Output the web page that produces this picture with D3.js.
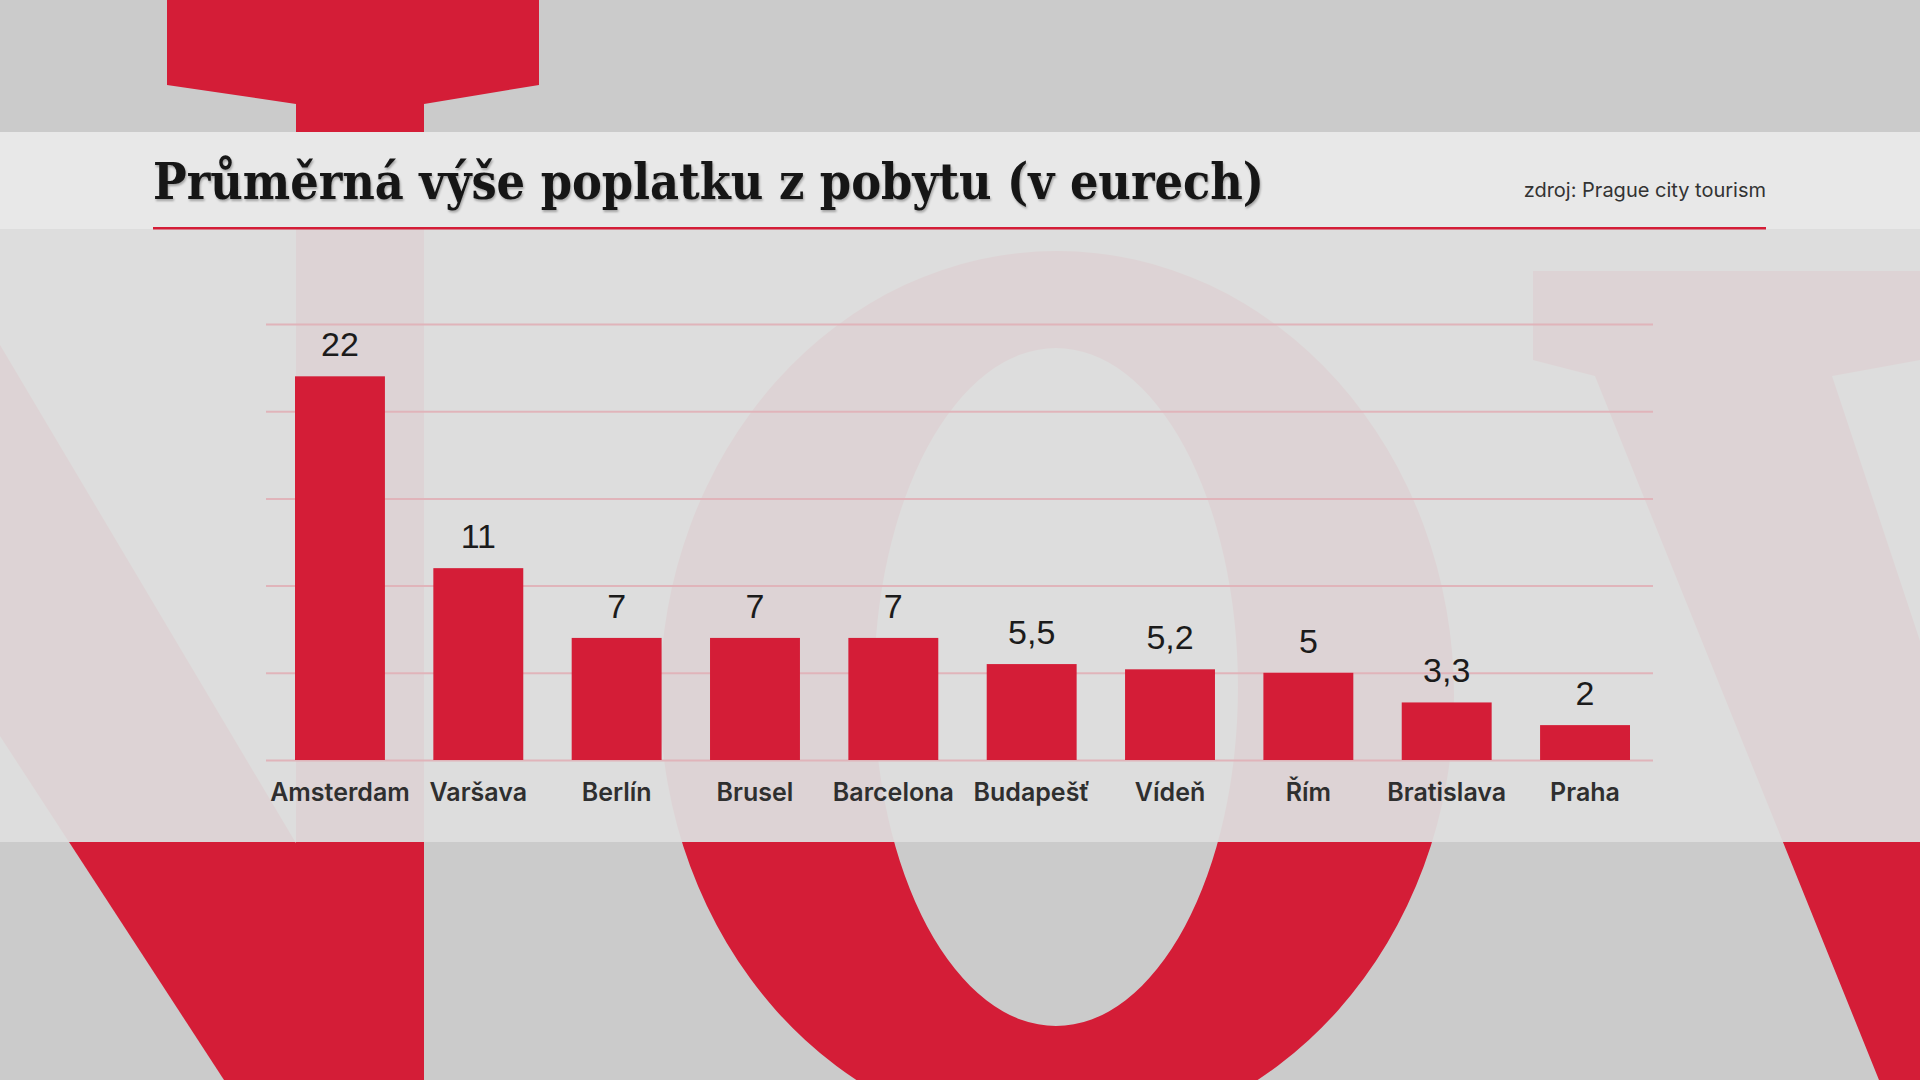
<!DOCTYPE html>
<meta charset="utf-8">

<head>
  <title>poplatek z pobytu</title>
</head>

<style>
  body {
    margin: 0;
    background: #cbcbcb;
  }

  svg {
    display: block;
  }

  .val {
    font-family: "Liberation Sans", Arial, sans-serif;
    font-size: 34px;
    fill: #1b1b1b;
    text-anchor: middle;
  }

  .cat text {
    font-family: Inter, "Noto Sans", sans-serif;
    font-weight: 600;
    font-size: 25px;
    fill: #2f2f2f;
  }
</style>

<body>
  <svg width="1920" height="1080"></svg>

  <script src="https://cdnjs.cloudflare.com/ajax/libs/d3/7.8.5/d3.min.js"></script>
  <script>
    // data
    var cities = ['Amsterdam', 'Varšava', 'Berlín', 'Brusel', 'Barcelona', 'Budapešť', 'Vídeň', 'Řím', 'Bratislava', 'Praha']
    var fees = [22, 11, 7, 7, 7, 5.5, 5.2, 5, 3.3, 2]
    var gridTicks = [0, 5, 10, 15, 20, 25]
    var title = 'Průměrná výše poplatku z pobytu (v eurech)'
    var source = 'zdroj: Prague city tourism'

    var red = '#d41d37'
    var svg = d3.select('svg')

    // background letters
    var deco = svg.append('g').attr('fill', red)
    deco.append('path').attr('d', 'M167,0H539V85L424,104V1080H296V104L167,85Z')
    deco.append('path').attr('d', 'M0,345L300,850V1080H224L0,736Z')
    deco.append('path')
      .attr('fill-rule', 'evenodd')
      .attr('d', ellipse(1057, 696, 397, 445) + ellipse(1056, 687, 182, 339))
    deco.append('path').attr('d', 'M1533,271H1920V360L1832,376L1920,641V1080H1879L1595,376L1533,360Z')

    function ellipse(cx, cy, rx, ry) {
      return 'M' + (cx - rx) + ',' + cy +
        'a' + rx + ',' + ry + ' 0 1,0 ' + (2 * rx) + ',0' +
        'a' + rx + ',' + ry + ' 0 1,0 ' + (-2 * rx) + ',0Z'
    }

    // panels
    svg.append('rect').attr('x', 0).attr('y', 132).attr('width', 1920).attr('height', 97)
      .attr('fill', '#e8e8e8')
    svg.append('rect').attr('x', 0).attr('y', 229).attr('width', 1920).attr('height', 613)
      .attr('fill', '#dddddd').attr('fill-opacity', 0.95)
    svg.append('rect').attr('x', 153).attr('y', 227).attr('width', 1613).attr('height', 2.5)
      .attr('fill', red)

    // title
    var defs = svg.append('defs')
    var f = defs.append('filter').attr('id', 'sh')
    f.append('feDropShadow').attr('dx', 1).attr('dy', 2).attr('stdDeviation', 1)
      .attr('flood-color', '#000').attr('flood-opacity', 0.3)

    var t = svg.append('text')
      .attr('x', 153).attr('y', 199)
      .attr('filter', 'url(#sh)')
      .style('font-family', '"DejaVu Serif", serif')
      .style('font-weight', 'bold')
      .style('font-stretch', 'condensed')
      .style('font-size', '50px')
      .attr('fill', '#141414')
      .text(title)
    var tw = t.node().getComputedTextLength()
    if (tw > 1111) t.style('font-size', (50 * 1111 / tw) + 'px')

    svg.append('text')
      .attr('x', 1766).attr('y', 197)
      .attr('text-anchor', 'end')
      .style('font-family', 'Inter, sans-serif')
      .style('font-size', '20px')
      .attr('fill', '#333')
      .text(source)

    // chart
    var x = d3.scaleBand().domain(cities).range([295, 1630]).paddingInner(0.35).paddingOuter(0)
    var y = d3.scaleLinear().domain([0, 25]).range([760, 324])

    var grid = svg.append('g')
      .attr('transform', 'translate(266,0)')
      .call(d3.axisLeft(y).tickValues(gridTicks).tickSize(-1387).tickFormat(''))
    grid.select('.domain').remove()
    grid.selectAll('line').attr('stroke', '#e0b4ba').attr('stroke-width', 2)

    var data = cities.map(function(c, i) {
      return { city: c, fee: fees[i] }
    })

    svg.append('g').selectAll('rect')
      .data(data)
      .enter()
      .append('rect')
      .attr('x', function(d) { return x(d.city) })
      .attr('width', x.bandwidth())
      .attr('y', function(d) { return y(d.fee) })
      .attr('height', function(d) { return y(0) - y(d.fee) })
      .attr('fill', red)

    svg.append('g').selectAll('text')
      .data(data)
      .enter()
      .append('text')
      .attr('class', 'val')
      .attr('x', function(d) { return x(d.city) + x.bandwidth() / 2 })
      .attr('y', function(d) { return y(d.fee) - 20 })
      .text(function(d) { return String(d.fee).replace('.', ',') })

    var cat = svg.append('g')
      .attr('class', 'cat')
      .attr('transform', 'translate(0,760)')
      .call(d3.axisBottom(x).tickSize(0))
    cat.select('.domain').remove()
    cat.selectAll('text').attr('y', 41).attr('dy', 0)
  </script>
</body>

</html>
